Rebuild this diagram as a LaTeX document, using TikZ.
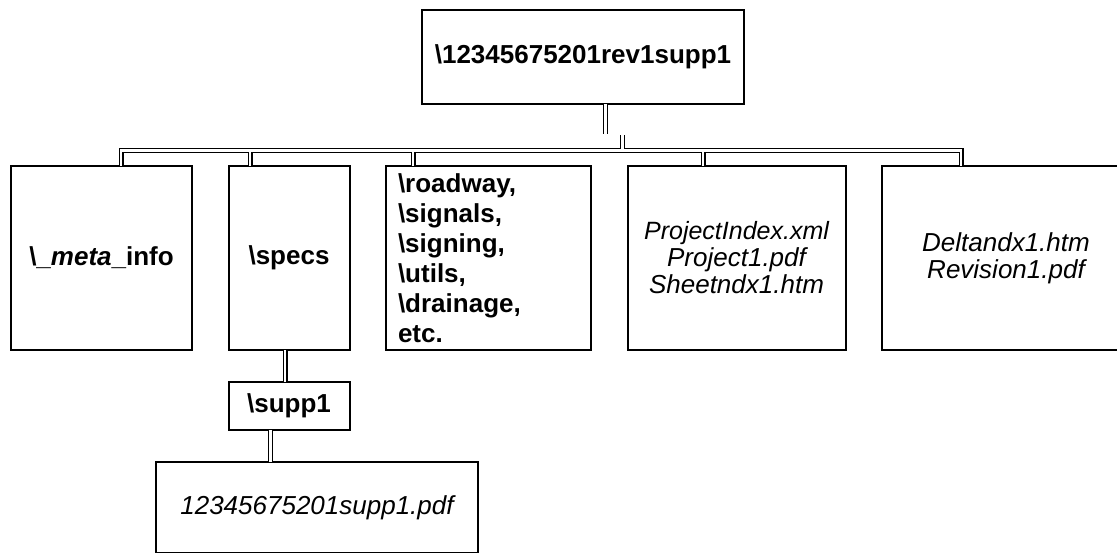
\documentclass[tikz,border=0pt]{standalone}
\usepackage{fontspec}
\setmainfont{Liberation Sans}
\usetikzlibrary{positioning}
\newcommand{\dirsl}{\textbackslash}
\tikzset{
  folder/.style={rectangle, draw=black, line width=2pt, outer sep=0pt, inner sep=0pt, align=center, font=\fontsize{26}{30}\selectfont\bfseries},
  files/.style={folder, font=\fontsize{26}{27}\selectfont\itshape},
  link/.style={draw=black, line width=1.3pt, double=white, double distance=2.4pt, line join=miter},
}

\begin{document}
\begin{tikzpicture}[x=1pt, y=-1pt, node distance=36.5pt]
\useasboundingbox (0,0) rectangle (1117,552);
% root folder
\node[folder, minimum width=322pt, minimum height=94pt] (root) at (583,57) {\dirsl 12345675201rev1supp1};
% second level
\node[folder, minimum width=181pt, minimum height=184pt] (meta) at (101.5,258) {\dirsl\_\textit{meta}\_info};
\node[folder, minimum width=121pt, minimum height=184pt, right=of meta] (specs) {\dirsl specs};
\node[folder, text width=181pt, inner xsep=12pt, minimum height=184pt, align=left, right=of specs] (disc) {\dirsl roadway,\\ \dirsl signals,\\ \dirsl signing,\\ \dirsl utils,\\ \dirsl drainage,\\ etc.};
\node[files, minimum width=218pt, minimum height=184pt, right=of disc] (proj) {{\fontsize{25}{27}\selectfont ProjectIndex.xml}\\ Project1.pdf\\ Sheetndx1.htm};
\node[files, minimum width=248pt, minimum height=184pt, right=of proj] (delta) {Deltandx1.htm\\ Revision1.pdf};
% under specs
\node[folder, minimum width=121pt, minimum height=48pt, below=32pt of specs] (supp) {\dirsl supp1};
\node[files, minimum width=322pt, minimum height=91pt, anchor=north west] (pdf) at (156,462) {12345675201supp1.pdf};

% bus and drops
\coordinate (j0) at (605.5,134);
\coordinate (j1) at (622.5,135);
\coordinate (b1) at (121,150.5);
\coordinate (b2) at (250,150.5);
\coordinate (b3) at (413,150.5);
\coordinate (b4) at (703,150.5);
\coordinate (b5) at (961,150.5);
\draw[link] (root.south -| j0) -- (j0)
  (j1) -- (j1 |- b1)
  (meta.north -| b1) -- (b1) -- (b5) -- (delta.north -| b5)
  (b2) -- (specs.north -| b2)
  (b3) -- (disc.north -| b3)
  (b4) -- (proj.north -| b4);
\coordinate (s1) at (285,0);
\coordinate (s2) at (270.5,0);
\draw[link] (specs.south -| s1) -- (supp.north -| s1);
\draw[link] (supp.south -| s2) -- (pdf.north -| s2);
\end{tikzpicture}
\end{document}
